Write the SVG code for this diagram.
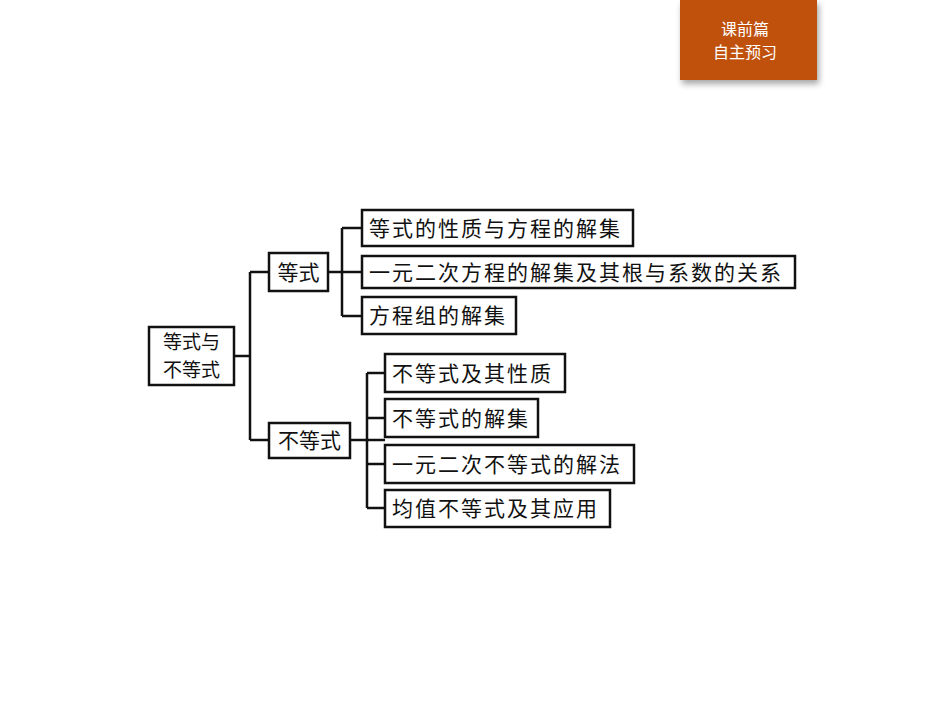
<svg xmlns="http://www.w3.org/2000/svg" width="950" height="713" viewBox="0 0 950 713">
<style>
.b{fill:#fff;stroke:#111;stroke-width:2.5}
.t{font-family:"Noto Sans CJK SC",sans-serif;font-size:21px;fill:#111;letter-spacing:2px}
.r{font-family:"Noto Sans CJK SC",sans-serif;font-size:21px;fill:#111;text-anchor:middle}
.c{fill:none;stroke:#111;stroke-width:2.5}
.h{font-family:"Noto Sans CJK SC",sans-serif;font-size:16px;fill:#fff;text-anchor:middle}
</style>
<defs><filter id="s" x="-10%" y="-10%" width="130%" height="140%"><feDropShadow dx="2" dy="4" stdDeviation="3" flood-opacity="0.35"/></filter></defs>
<g id="tab"><rect x="680" y="0" width="137" height="80" fill="#C0510A" filter="url(#s)"/><text class="h" x="745" y="35">课前篇</text><text class="h" x="745" y="58">自主预习</text></g>
<g id="connectors">
<path class="c" d="M234 356H250M250 272V440M250 272H269M250 440H269"/>
<path class="c" d="M328 272H362M342 228V316M342 228H362M342 316H362"/>
<path class="c" d="M350 440H385M367 373V508M367 373H385M367 418H385M367 464H385M367 508H385"/>
</g>
<g id="root"><rect class="b" x="149" y="327" width="85" height="58"/><text class="r" x="191.5" y="349" font-size="19" style="font-size:19px">等式与</text><text class="r" x="191.5" y="377" style="font-size:19px">不等式</text></g>
<g id="eq"><rect class="b" x="269" y="253" width="59" height="38"/><text class="r" x="298.5" y="280">等式</text></g>
<g id="ineq"><rect class="b" x="269" y="423" width="81" height="35"/><text class="r" x="309.5" y="448">不等式</text></g>
<g id="e1"><rect class="b" x="362" y="210" width="271" height="36"/><text class="t" x="369" y="236">等式的性质与方程的解集</text></g>
<g id="e2"><rect class="b" x="362" y="256" width="433" height="32"/><text class="t" x="369" y="280">一元二次方程的解集及其根与系数的关系</text></g>
<g id="e3"><rect class="b" x="362" y="297" width="154" height="37"/><text class="t" x="369" y="323">方程组的解集</text></g>
<g id="i1"><rect class="b" x="385" y="354" width="180" height="38"/><text class="t" x="392" y="381">不等式及其性质</text></g>
<g id="i2"><rect class="b" x="385" y="399" width="153" height="38"/><text class="t" x="392" y="426">不等式的解集</text></g>
<g id="i3"><rect class="b" x="385" y="445" width="249" height="38"/><text class="t" x="392" y="472">一元二次不等式的解法</text></g>
<g id="i4"><rect class="b" x="385" y="490" width="225" height="37"/><text class="t" x="392" y="516">均值不等式及其应用</text></g>
</svg>
